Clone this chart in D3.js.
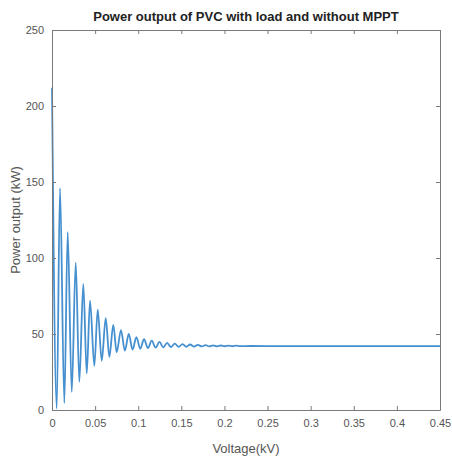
<!DOCTYPE html>
<meta charset="utf-8"/>
<head>
<style>
  body { margin:0; background:#fff; }
  text { font-family: Arial, "Liberation Sans", sans-serif; }
</style>
<script src="https://d3js.org/d3.v7.min.js" charset="utf-8"></script>
</head>
<body>
<script>
  // extrema of the damped oscillation
  var voltage = [0, 0.0055, 0.0093, 0.0143, 0.0182, 0.0229, 0.0275, 0.0317, 0.0363, 0.0403,
    0.0441, 0.0491, 0.053, 0.0577, 0.0623, 0.0665, 0.0711, 0.075, 0.080, 0.0845,
    0.089, 0.0934, 0.0979, 0.1023, 0.1068, 0.1112, 0.1157, 0.1201, 0.1246, 0.129,
    0.1335, 0.138, 0.1424, 0.1469, 0.1513, 0.1558, 0.1602, 0.1647, 0.1691, 0.1736,
    0.178, 0.1825, 0.187, 0.1914, 0.1959, 0.2003, 0.2048, 0.2092, 0.2137, 0.2181,
    0.23, 0.25, 0.3, 0.35, 0.4, 0.45];
  var power = [212, 1, 146, 4.6, 117, 12, 97, 18.6, 83, 24,
    72, 29, 66, 32.4, 60.5, 35, 56, 38, 52.6, 39,
    50, 39.8, 48, 40.3, 46.6, 40.7, 45.6, 41, 44.8, 41.2,
    44.2, 41.4, 43.7, 41.5, 43.4, 41.6, 43.1, 41.7, 42.9, 41.8,
    42.7, 41.85, 42.55, 41.9, 42.45, 41.95, 42.35, 41.95, 42.3, 42.0,
    42.1, 42.05, 42, 42, 42, 42];
  var xTicks = [0, 0.05, 0.1, 0.15, 0.2, 0.25, 0.3, 0.35, 0.4, 0.45];
  var yTicks = [0, 50, 100, 150, 200, 250];

  var width = 452, height = 461;
  var margin = {left:52, right:12, top:30, bottom:51};

  var svg = d3.select("body").append("svg")
    .attr("width", width)
    .attr("height", height);

  var x = d3.scaleLinear().domain([0, 0.45]).range([margin.left, width - margin.right]);
  var y = d3.scaleLinear().domain([0, 250]).range([height - margin.bottom, margin.top]);

  var data = voltage.map(function(v, i){ return {v:v, p:power[i]}; });

  var line = d3.line()
    .x(function(d){ return x(d.v); })
    .y(function(d){ return y(d.p); })
    .curve(d3.curveMonotoneX);

  svg.append("path")
    .datum(data)
    .attr("d", line)
    .attr("fill", "none")
    .attr("stroke", "#4690d0")
    .attr("stroke-width", 1.8);

  // axes, MATLAB style box with inward ticks on all sides
  var axisColor = "#7a7a7a";
  function styleAxis(g){
    g.select(".domain").attr("stroke", axisColor);
    g.selectAll(".tick line").attr("stroke", axisColor);
    g.selectAll(".tick text").attr("fill", "#555").style("font-size", "11px");
  }

  svg.append("g")
    .attr("transform", "translate(0," + y(0) + ")")
    .call(d3.axisBottom(x).tickValues(xTicks).tickFormat(d3.format("")).tickSizeInner(-4).tickSizeOuter(0).tickPadding(9))
    .call(styleAxis);

  svg.append("g")
    .attr("transform", "translate(0," + y(250) + ")")
    .call(d3.axisTop(x).tickValues(xTicks).tickFormat("").tickSizeInner(-4).tickSizeOuter(0))
    .call(styleAxis);

  svg.append("g")
    .attr("transform", "translate(" + x(0) + ",0)")
    .call(d3.axisLeft(y).tickValues(yTicks).tickSizeInner(-4).tickSizeOuter(0).tickPadding(8))
    .call(styleAxis);

  svg.append("g")
    .attr("transform", "translate(" + x(0.45) + ",0)")
    .call(d3.axisRight(y).tickValues(yTicks).tickFormat("").tickSizeInner(-4).tickSizeOuter(0))
    .call(styleAxis);

  svg.append("text")
    .attr("x", (x(0) + x(0.45)) / 2)
    .attr("y", 21)
    .attr("text-anchor", "middle")
    .style("font-size", "13px")
    .style("font-weight", "bold")
    .attr("fill", "#222")
    .text("Power output of PVC with load and without MPPT");

  svg.append("text")
    .attr("x", (x(0) + x(0.45)) / 2)
    .attr("y", 453)
    .attr("text-anchor", "middle")
    .style("font-size", "13px")
    .attr("fill", "#555")
    .text("Voltage(kV)");

  svg.append("text")
    .attr("transform", "translate(20," + ((y(0) + y(250)) / 2) + ") rotate(-90)")
    .attr("text-anchor", "middle")
    .style("font-size", "13px")
    .attr("fill", "#555")
    .text("Power output (kW)");
</script>
</body>
</html>
